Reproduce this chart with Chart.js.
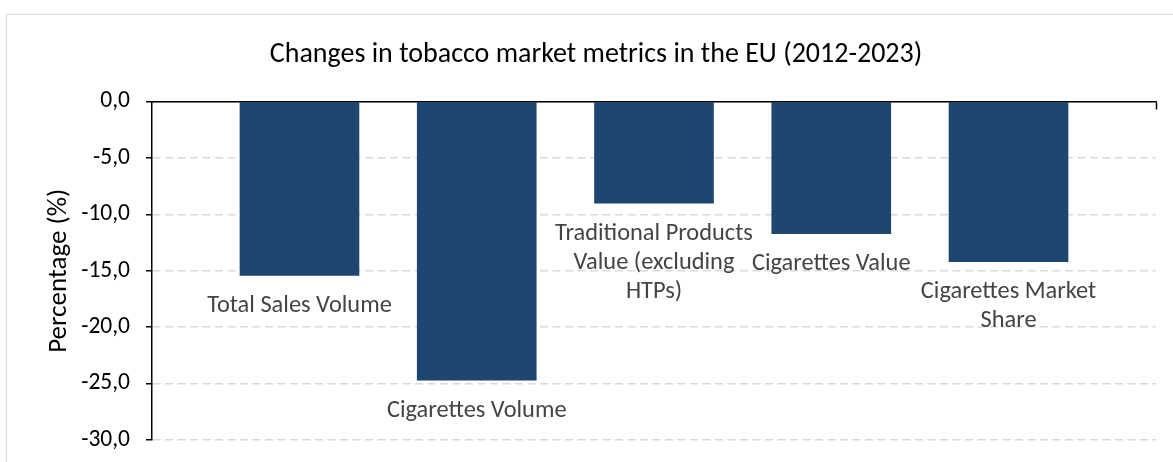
<!DOCTYPE html>
<html>
<head>
<meta charset="utf-8">
<script src="https://cdn.jsdelivr.net/npm/chart.js@4"></script>
<style>
  html, body { margin: 0; padding: 0; background: #fff; overflow: hidden; }
  #frame { position: absolute; left: 6px; top: 14px; width: 1300px; height: 600px; border: 1px solid #d9d9d9; }
  #chart { position: absolute; left: 0; top: 0; }
</style>
</head>
<body>
<div id="frame"></div>
<canvas id="chart" width="1173" height="462"></canvas>
<script>
const categories = [
    ['Total Sales Volume'],
    ['Cigarettes Volume'],
    ['Traditional Products', 'Value (excluding', 'HTPs)'],
    ['Cigarettes Value'],
    ['Cigarettes Market', 'Share']
]
const changes = [-15.4, -24.7, -9.0, -11.7, -14.2]
const yTicks = [0, -5, -10, -15, -20, -25, -30]

const FONT = 'Calibri, Carlito, Lato, sans-serif'

// category names sit under the end of each bar, like the Excel data labels
const barLabels = {
    id: 'barLabels',
    afterDatasetsDraw(chart){
        const ctx = chart.ctx
        const meta = chart.getDatasetMeta(0)
        ctx.save()
        ctx.font = '24.4px ' + FONT
        ctx.fillStyle = '#444'
        ctx.textAlign = 'center'
        ctx.textBaseline = 'middle'
        meta.data.forEach((bar, i) => {
            categories[i].forEach((line, j) => {
                ctx.fillText(line, bar.x, bar.y + 30.5 + j * 29)
            })
        })
        ctx.restore()
    }
}

new Chart(document.getElementById('chart'), {
    type: 'bar',
    data: {
        datasets: [{
            data: changes.map((v, i) => ({x: i, y: v})),
            backgroundColor: '#1d4670',
            borderWidth: 0,
            barThickness: 119
        }]
    },
    options: {
        responsive: false,
        animation: false,
        layout: {padding: {left: 36, right: 17, top: 30, bottom: 22}},
        plugins: {
            legend: {display: false},
            tooltip: {enabled: false},
            title: {
                display: true,
                text: 'Changes in tobacco market metrics in the EU (2012-2023)',
                color: '#000',
                font: {family: FONT, size: 28, weight: 'normal'},
                padding: {top: 8.5, bottom: 29.5}
            }
        },
        scales: {
            x: {
                type: 'linear',
                offset: false,
                position: {y: 0},
                min: -0.832,
                max: 4.832,
                afterBuildTicks: s => { s.ticks = [{value: s.max}] },
                ticks: {display: false},
                grid: {offset: false, drawOnChartArea: false, drawTicks: true, tickLength: 7, tickColor: '#000', tickWidth: 1.5},
                border: {display: true, color: '#000', width: 1.5}
            },
            y: {
                min: -30,
                max: 0,
                afterBuildTicks: s => { s.ticks = yTicks.map(v => ({value: v})) },
                afterFit: s => {
                    s.width = 116
                    s.paddingTop = 0
                    s.paddingBottom = 0
                },
                ticks: {
                    color: '#000',
                    padding: 16,
                    font: {family: FONT, size: 23.5},
                    callback: v => v.toFixed(1).replace('.', ',')
                },
                grid: {
                    color: '#d9d9d9',
                    lineWidth: 1.5,
                    tickLength: 6,
                    tickColor: '#000',
                    tickWidth: 1.5,
                    tickBorderDash: []
                },
                border: {display: true, color: '#000', width: 1.5, dash: [8, 4.5]},
                title: {
                    display: true,
                    text: 'Percentage (%)',
                    color: '#000',
                    font: {family: FONT, size: 27},
                    padding: {top: 7, bottom: 0}
                }
            }
        }
    },
    plugins: [barLabels]
})
</script>
</body>
</html>
